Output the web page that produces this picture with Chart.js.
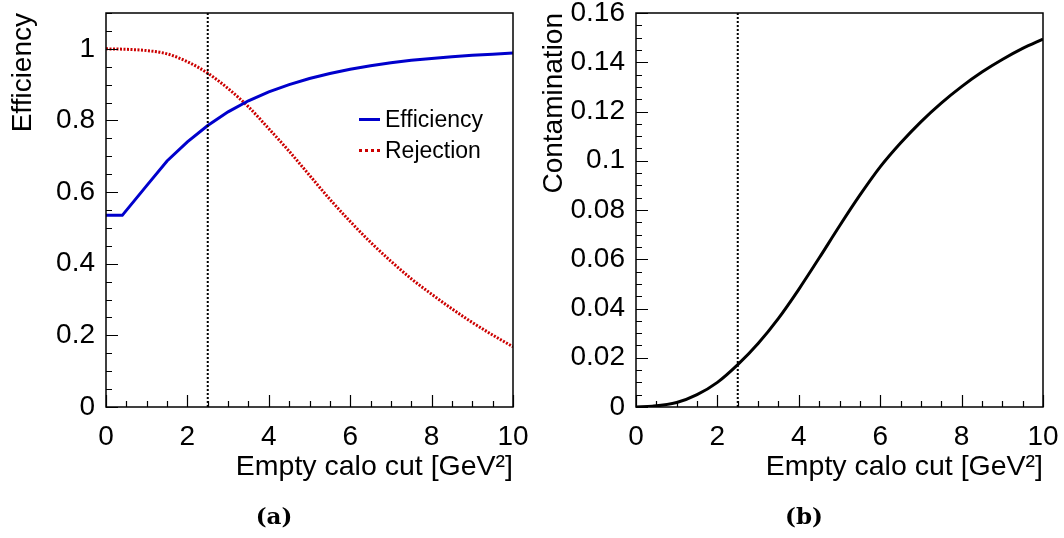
<!DOCTYPE html>
<html>
<head>
<meta charset="utf-8">
<script src="https://cdn.jsdelivr.net/npm/chart.js@4.4.1/dist/chart.umd.min.js"></script>
<style>
  body { margin: 0; background: #fff; width: 1064px; height: 538px; overflow: hidden; position: relative; }
  canvas { position: absolute; top: 0; }
  #effCanvas { left: 0; }
  #contCanvas { left: 532px; }
  .legend { position: absolute; left: 359px; top: 104px; font: 23px "Liberation Sans", Arial, sans-serif; color: #000; }
  .legend-item { display: flex; align-items: center; height: 31px; }
  .legend-item span.swatch { display: inline-block; width: 21px; margin-right: 5px; }
  .caption { position: absolute; top: 502px; width: 80px; text-align: center; font: bold 23px "DejaVu Serif", serif; }
</style>
</head>
<body>
<canvas id="effCanvas" width="532" height="538"></canvas>
<canvas id="contCanvas" width="532" height="538"></canvas>
<div class="legend" id="effLegend"></div>
<div class="caption" style="left:234px">(a)</div>
<div class="caption" style="left:764px">(b)</div>
<script>
// Values
const cutValues = [0, 0.4, 1, 1.5, 2, 2.5, 3, 3.5, 4, 4.5, 5, 5.5, 6, 6.5, 7, 7.5, 8, 8.5, 9, 9.5, 10];
const efficiency = [0.535, 0.535, 0.618, 0.687, 0.740, 0.786, 0.824, 0.855, 0.880, 0.900, 0.917, 0.931, 0.943, 0.953, 0.961, 0.968, 0.973, 0.978, 0.982, 0.985, 0.988];
const rejection = [1.0, 0.999, 0.995, 0.986, 0.964, 0.932, 0.889, 0.838, 0.777, 0.714, 0.647, 0.580, 0.518, 0.460, 0.407, 0.358, 0.315, 0.274, 0.236, 0.201, 0.168];
const contamination = [0, 0.0003, 0.0018, 0.0050, 0.0100, 0.0172, 0.0258, 0.0360, 0.0478, 0.0605, 0.0735, 0.0860, 0.0975, 0.1072, 0.1158, 0.1234, 0.1301, 0.1360, 0.1411, 0.1456, 0.1494];
const cutPosition = 2.5;
const xTitle = 'Empty calo cut [GeV\u00B2]';

Chart.defaults.color = '#000';
Chart.defaults.font.family = '"Liberation Sans", Arial, sans-serif';

function points(ys) {
    return cutValues.map((x, i) => ({ x: x, y: ys[i] }));
}

function isMajor(v, step) {
    return Math.abs(v / step - Math.round(v / step)) < 1e-6;
}

// ROOT style frame with ticks pointing inwards
const rootFrame = {
    id: 'rootFrame',
    afterDraw(chart, args, opts) {
        const ctx = chart.ctx;
        const a = chart.chartArea;
        const xs = chart.scales.x, ys = chart.scales.y;
        ctx.save();
        ctx.strokeStyle = '#000';
        ctx.lineWidth = 1.5;
        ctx.strokeRect(a.left, a.top, a.right - a.left, a.bottom - a.top);
        ctx.lineWidth = 1.2;
        ctx.beginPath();
        xs.ticks.forEach(t => {
            const px = Math.round(xs.getPixelForValue(t.value)) + 0.5;
            const len = isMajor(t.value, opts.xMajor) ? 12 : 6;
            ctx.moveTo(px, a.bottom);
            ctx.lineTo(px, a.bottom - len);
        });
        ys.ticks.forEach(t => {
            const py = Math.round(ys.getPixelForValue(t.value)) + 0.5;
            const len = isMajor(t.value, opts.yMajor) ? 12 : 6;
            ctx.moveTo(a.left, py);
            ctx.lineTo(a.left + len, py);
        });
        ctx.stroke();
        ctx.restore();
    }
};

function cutLine(yMax) {
    return {
        data: [{ x: cutPosition, y: 0 }, { x: cutPosition, y: yMax }],
        borderColor: '#000',
        borderWidth: 2,
        borderDash: [2, 2],
        pointRadius: 0,
        fill: false
    };
}

function makeOptions(yMax, yStep, yMajor, yTitle, yWidth, padRight, yTitlePad) {
    return {
        responsive: false,
        animation: false,
        layout: { autoPadding: false, padding: { left: 0, top: 13, right: padRight, bottom: 0 } },
        plugins: {
            legend: { display: false },
            tooltip: { enabled: false },
            rootFrame: { xMajor: 2, yMajor: yMajor }
        },
        elements: { point: { radius: 0 } },
        scales: {
            x: {
                type: 'linear',
                min: 0,
                max: 10,
                grid: { display: false, drawTicks: false },
                border: { display: false },
                afterFit: function(scale) {
                    scale.height = 131;
                    scale.paddingLeft = 0;
                    scale.paddingRight = 0;
                },
                ticks: {
                    stepSize: 0.5,
                    autoSkip: false,
                    maxRotation: 0,
                    padding: 13,
                    font: { size: 28 },
                    callback: v => isMajor(v, 2) ? String(Math.round(v)) : ''
                },
                title: {
                    display: true,
                    text: xTitle,
                    align: 'end',
                    font: { size: 28.5 },
                    padding: { top: 0, bottom: 54 }
                }
            },
            y: {
                type: 'linear',
                min: 0,
                max: yMax,
                grid: { display: false, drawTicks: false },
                border: { display: false },
                afterFit: function(scale) {
                    scale.width = yWidth;
                    scale.paddingTop = 0;
                    scale.paddingBottom = 0;
                },
                ticks: {
                    stepSize: yStep,
                    autoSkip: false,
                    padding: 11,
                    font: { size: 28 },
                    callback: v => isMajor(v, yMajor) ? String(parseFloat(v.toFixed(3))) : ''
                },
                title: {
                    display: true,
                    text: yTitle,
                    align: 'end',
                    font: { size: 28 },
                    padding: { top: yTitlePad, bottom: 0 }
                }
            }
        }
    };
}

// (a) Efficiency and rejection
const effChart = new Chart(document.getElementById('effCanvas').getContext('2d'), {
    type: 'line',
    data: {
        datasets: [
            cutLine(1.1),
            {
                label: 'Efficiency',
                data: points(efficiency),
                borderColor: '#0000cc',
                borderWidth: 3,
                tension: 0
            },
            {
                label: 'Rejection',
                data: points(rejection),
                borderColor: '#cc0000',
                borderWidth: 3,
                borderDash: [2, 1.5],
                cubicInterpolationMode: 'monotone'
            }
        ]
    },
    options: makeOptions(1.1, 0.05, 0.2, 'Efficiency', 106, 19, 6),
    plugins: [rootFrame]
});

// (b) Contamination
const contChart = new Chart(document.getElementById('contCanvas').getContext('2d'), {
    type: 'line',
    data: {
        datasets: [
            cutLine(0.16),
            {
                label: 'Contamination',
                data: points(contamination),
                borderColor: '#000',
                borderWidth: 3,
                cubicInterpolationMode: 'monotone'
            }
        ]
    },
    options: makeOptions(0.16, 0.005, 0.02, 'Contamination', 104, 21, 5),
    plugins: [rootFrame]
});

// HTML legend built from the dataset styles
const legendEl = document.getElementById('effLegend');
effChart.data.datasets.filter(ds => ds.label).forEach(ds => {
    const item = document.createElement('div');
    item.className = 'legend-item';
    const sw = document.createElement('span');
    sw.className = 'swatch';
    sw.style.borderTop = '3px ' + (ds.borderDash ? 'dotted ' : 'solid ') + ds.borderColor;
    item.appendChild(sw);
    item.appendChild(document.createTextNode(ds.label));
    legendEl.appendChild(item);
});
</script>
</body>
</html>
